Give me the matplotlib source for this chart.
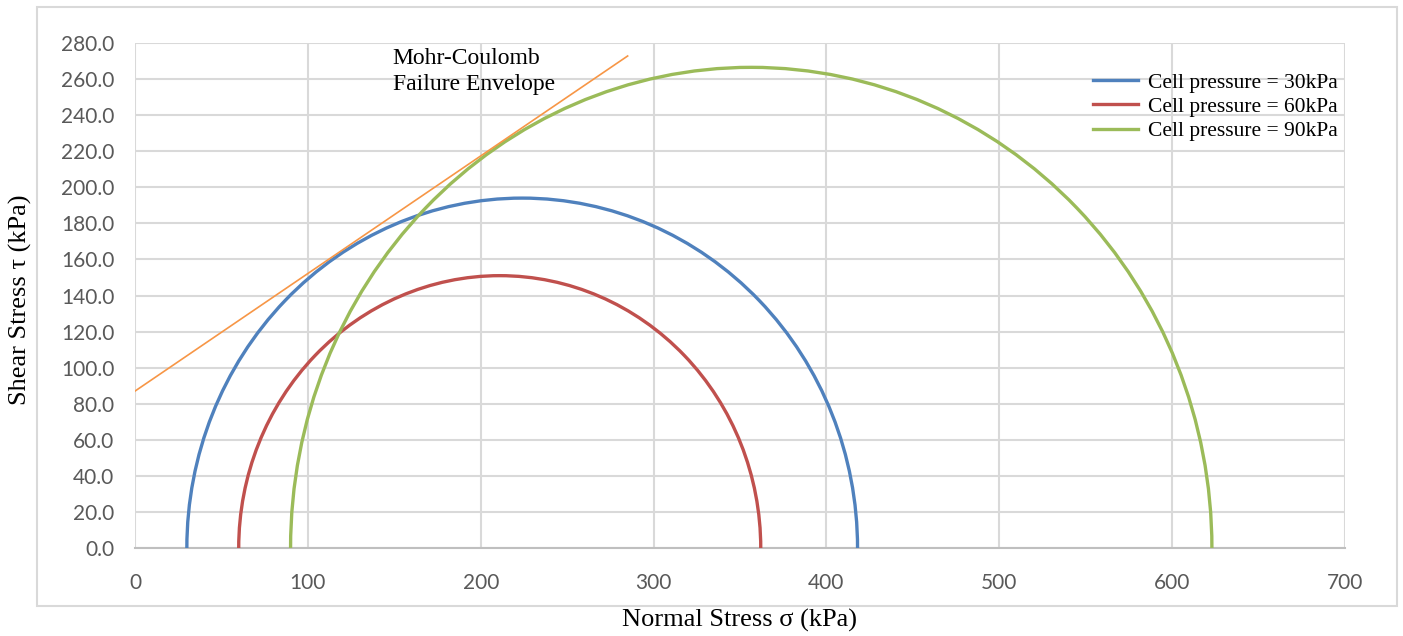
import matplotlib.pyplot as plt
from matplotlib.patches import Arc, Rectangle
from matplotlib.lines import Line2D

# --- Data ---
labels = ["Cell pressure = 30kPa", "Cell pressure = 60kPa", "Cell pressure = 90kPa"]
sigma3 = [30, 60, 90]        # minor principal stress (kPa)
sigma1 = [418, 362, 623]     # major principal stress (kPa)
colors = ["#4F81BD", "#C0504D", "#9BBB59"]

# Mohr-Coulomb envelope end points
env_sigma = [0, 285]
env_tau = [87, 272.8]

x_ticks = [0, 100, 200, 300, 400, 500, 600, 700]
y_ticks = [0, 20, 40, 60, 80, 100, 120, 140, 160, 180, 200, 220, 240, 260, 280]

serif = "Liberation Serif"
tick_font = "Lato"

fig = plt.figure(figsize=(14.03, 6.36), dpi=100)
ax = fig.add_axes([135 / 1403, 1 - 548 / 636, 1210 / 1403, 505 / 636])

# outer chart frame
fig.patches.append(Rectangle((37 / 1403, 1 - 606 / 636), 1360 / 1403, 599 / 636,
                             transform=fig.transFigure, fill=False,
                             edgecolor="#D9D9D9", linewidth=1.5))

# --- Mohr circles ---
handles = []
for s3, s1, col, lab in zip(sigma3, sigma1, colors, labels):
    c = (s1 + s3) / 2
    d = s1 - s3
    ax.add_patch(Arc((c, 0), d, d, theta1=0, theta2=180, color=col, linewidth=2.4, zorder=3))
    handles.append(Line2D([], [], color=col, linewidth=2.4, label=lab))

# --- Failure envelope ---
ax.plot(env_sigma, env_tau, color="#F79646", linewidth=1.2, zorder=4)
ax.text(149, 277, "Mohr-Coulomb\nFailure Envelope", fontsize=17, family=serif,
        va="top", ha="left", linespacing=1.3)

ax.set_xlim(0, 700)
ax.set_ylim(0, 280)
ax.set_xticks(x_ticks)
ax.set_yticks(y_ticks)
ax.set_yticklabels([f"{v:.1f}" for v in y_ticks])
ax.grid(True, color="#D9D9D9", linewidth=1.5)
ax.set_axisbelow(True)
ax.tick_params(length=0, labelsize=15, labelcolor="#595959")
ax.tick_params(axis="y", pad=15)
ax.tick_params(axis="x", pad=18)
for lab in ax.get_xticklabels() + ax.get_yticklabels():
    lab.set_family(tick_font)
for side in ["top", "right", "left"]:
    ax.spines[side].set_visible(False)
ax.spines["bottom"].set_color("#BFBFBF")
ax.spines["bottom"].set_linewidth(1.5)

fig.text(740 / 1403, 1 - 620 / 636, "Normal Stress σ (kPa)", fontsize=19,
         family=serif, ha="center", va="center")
fig.text(20 / 1403, 1 - 300 / 636, "Shear Stress τ (kPa)", fontsize=19,
         family=serif, ha="center", va="center", rotation=90)

ax.legend(handles=handles, loc="upper right", bbox_to_anchor=(1.01, 0.98),
          frameon=False, prop={"family": serif, "size": 15.5},
          handlelength=2.1, handletextpad=0.45, labelspacing=0.2)

fig.savefig("out.png", dpi=100)
